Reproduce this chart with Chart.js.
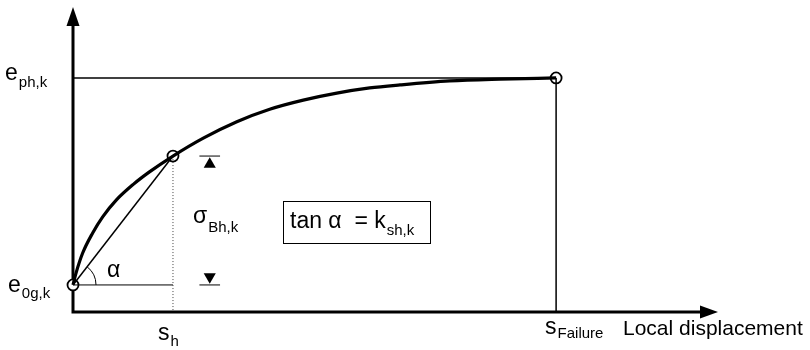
<!DOCTYPE html>
<html>
<head>
<meta charset="utf-8">
<script src="https://cdn.jsdelivr.net/npm/chart.js@4"></script>
<style>
  html, body { margin: 0; padding: 0; background: #fff; }
  #wrap { width: 810px; height: 350px; }
</style>
</head>
<body>
<div id="wrap"><canvas id="chart"></canvas></div>
<script>
// relative units: displacement 0..100 along x, earth resistance 0..100 along y
const sH = 15.5;
const sFailure = 74.9;
const e0g = 8.9;
const eAtSh = 51.3;
const ePh = 77.0;

// mobilisation curve from e0g,k up to eph,k
const curveX = [0, 0.47, 1.5, 3.05, 4.6, 6.7, 9.3, 11.8, 15.5, 20.2, 25.4, 30.5, 35.7, 40.9, 46.0, 50.7, 58.4, 66.2, 74.9];
const curveY = [8.9, 12.8, 19.4, 26.0, 31.3, 36.8, 41.9, 46.0, 51.3, 57.2, 62.6, 66.7, 69.7, 72.0, 73.7, 74.7, 76.0, 76.6, 77.0];

// dimension marks for sigma_Bh,k
const dimTickX = [19.6, 22.8];
const dimArrowX = 21.2;
const dimArrowY = [48.6, 11.6];

const pts = (xs, ys) => xs.map((x, i) => ({ x: x, y: ys[i] }));

const FONT = '"Liberation Sans", Arial, sans-serif';

// axes with arrow heads, plus the angle arc
const axesPlugin = {
  id: 'axes',
  beforeDatasetsDraw(chart) {
    const { ctx, chartArea, scales } = chart;
    const x0 = scales.x.getPixelForValue(0);
    const y0 = scales.y.getPixelForValue(0);
    ctx.save();
    ctx.strokeStyle = '#000';
    ctx.fillStyle = '#000';
    ctx.lineWidth = 3;
    ctx.beginPath();
    ctx.moveTo(x0, y0 + 1.5);
    ctx.lineTo(x0, chartArea.top + 14);
    ctx.moveTo(x0 - 1.5, y0);
    ctx.lineTo(chartArea.right - 14, y0);
    ctx.stroke();
    ctx.beginPath();
    ctx.moveTo(x0, chartArea.top - 1);
    ctx.lineTo(x0 - 6.5, chartArea.top + 18);
    ctx.lineTo(x0 + 6.5, chartArea.top + 18);
    ctx.closePath();
    ctx.fill();
    ctx.beginPath();
    ctx.moveTo(chartArea.right, y0);
    ctx.lineTo(chartArea.right - 18, y0 - 6.5);
    ctx.lineTo(chartArea.right - 18, y0 + 6.5);
    ctx.closePath();
    ctx.fill();

    const yE = scales.y.getPixelForValue(e0g);
    const ang = Math.atan2(scales.y.getPixelForValue(eAtSh) - yE, scales.x.getPixelForValue(sH) - x0);
    ctx.lineWidth = 1;
    ctx.beginPath();
    ctx.arc(x0, yE, 23, ang, 0);
    ctx.stroke();
    ctx.restore();
  }
};

function subText(ctx, x, y, main, sub, size, subSize, drop) {
  ctx.font = size + 'px ' + FONT;
  ctx.fillText(main, x, y);
  const w = ctx.measureText(main).width;
  ctx.font = subSize + 'px ' + FONT;
  ctx.fillText(sub, x + w + 1, y + drop);
}

const labelsPlugin = {
  id: 'labels',
  afterDraw(chart) {
    const { ctx, scales } = chart;
    const px = v => scales.x.getPixelForValue(v);
    const py = v => scales.y.getPixelForValue(v);
    ctx.save();
    ctx.fillStyle = '#000';
    ctx.textAlign = 'left';
    ctx.textBaseline = 'alphabetic';

    subText(ctx, 5, py(ePh) + 2, 'e', 'ph,k', 23, 15, 7);
    subText(ctx, 8, py(e0g) + 7, 'e', '0g,k', 23, 15, 6);
    subText(ctx, px(sH) - 15, 340, 's', 'h', 23, 15, 6);
    subText(ctx, px(sFailure) - 11, 334, 's', 'Failure', 23, 15, 4);
    ctx.font = '21px ' + FONT;
    ctx.fillText('Local displacement', 623, 335);

    subText(ctx, 193, 223, '\u03c3', 'Bh,k', 23, 15, 9);
    ctx.font = '23px ' + FONT;
    ctx.fillText('\u03b1', px(0) + 34, 277);

    // formula box
    ctx.strokeStyle = '#000';
    ctx.lineWidth = 1;
    ctx.strokeRect(283.5, 201.5, 147, 42);
    subText(ctx, 290, 228, 'tan \u03b1  = k', 'sh,k', 23, 15, 7);
    ctx.restore();
  }
};

new Chart(document.getElementById('chart'), {
  type: 'scatter',
  data: {
    datasets: [
      { data: pts(curveX, curveY), showLine: true, borderColor: '#000', borderWidth: 3.2, cubicInterpolationMode: 'monotone', pointRadius: 0 },
      { data: [{ x: 0, y: ePh }, { x: sFailure, y: ePh }], showLine: true, borderColor: '#000', borderWidth: 1.5, pointRadius: 0 },
      { data: [{ x: sFailure, y: ePh }, { x: sFailure, y: 0 }], showLine: true, borderColor: '#000', borderWidth: 1.5, pointRadius: 0 },
      { data: [{ x: sH, y: eAtSh }, { x: sH, y: 0 }], showLine: true, borderColor: '#444', borderWidth: 1, borderDash: [1, 2], pointRadius: 0 },
      { data: [{ x: 0, y: e0g }, { x: sH, y: eAtSh }], showLine: true, borderColor: '#000', borderWidth: 1.5, pointRadius: 0 },
      { data: [{ x: 0, y: e0g }, { x: sH, y: e0g }], showLine: true, borderColor: '#000', borderWidth: 1, pointRadius: 0 },
      { data: [{ x: dimTickX[0], y: eAtSh }, { x: dimTickX[1], y: eAtSh }], showLine: true, borderColor: '#000', borderWidth: 1, pointRadius: 0 },
      { data: [{ x: dimTickX[0], y: e0g }, { x: dimTickX[1], y: e0g }], showLine: true, borderColor: '#000', borderWidth: 1, pointRadius: 0 },
      { data: [{ x: dimArrowX, y: dimArrowY[0] }, { x: dimArrowX, y: dimArrowY[1] }], showLine: false,
        pointStyle: 'triangle', pointRadius: 7, rotation: [0, 180], backgroundColor: '#000', borderColor: '#000', borderWidth: 0 },
      { data: [{ x: 0, y: e0g }, { x: sH, y: eAtSh }, { x: sFailure, y: ePh }], showLine: false,
        pointStyle: 'circle', pointRadius: 5.5, backgroundColor: '#fff', borderColor: '#000', borderWidth: 1.8 }
    ]
  },
  options: {
    responsive: true,
    maintainAspectRatio: false,
    animation: false,
    events: [],
    layout: { padding: { left: 73, right: 92, top: 8, bottom: 38 } },
    datasets: { scatter: { clip: false } },
    scales: {
      x: { type: 'linear', min: 0, max: 100, display: false },
      y: { type: 'linear', min: 0, max: 100, display: false }
    },
    plugins: { legend: { display: false }, tooltip: { enabled: false } }
  },
  plugins: [axesPlugin, labelsPlugin]
});
</script>
</body>
</html>
